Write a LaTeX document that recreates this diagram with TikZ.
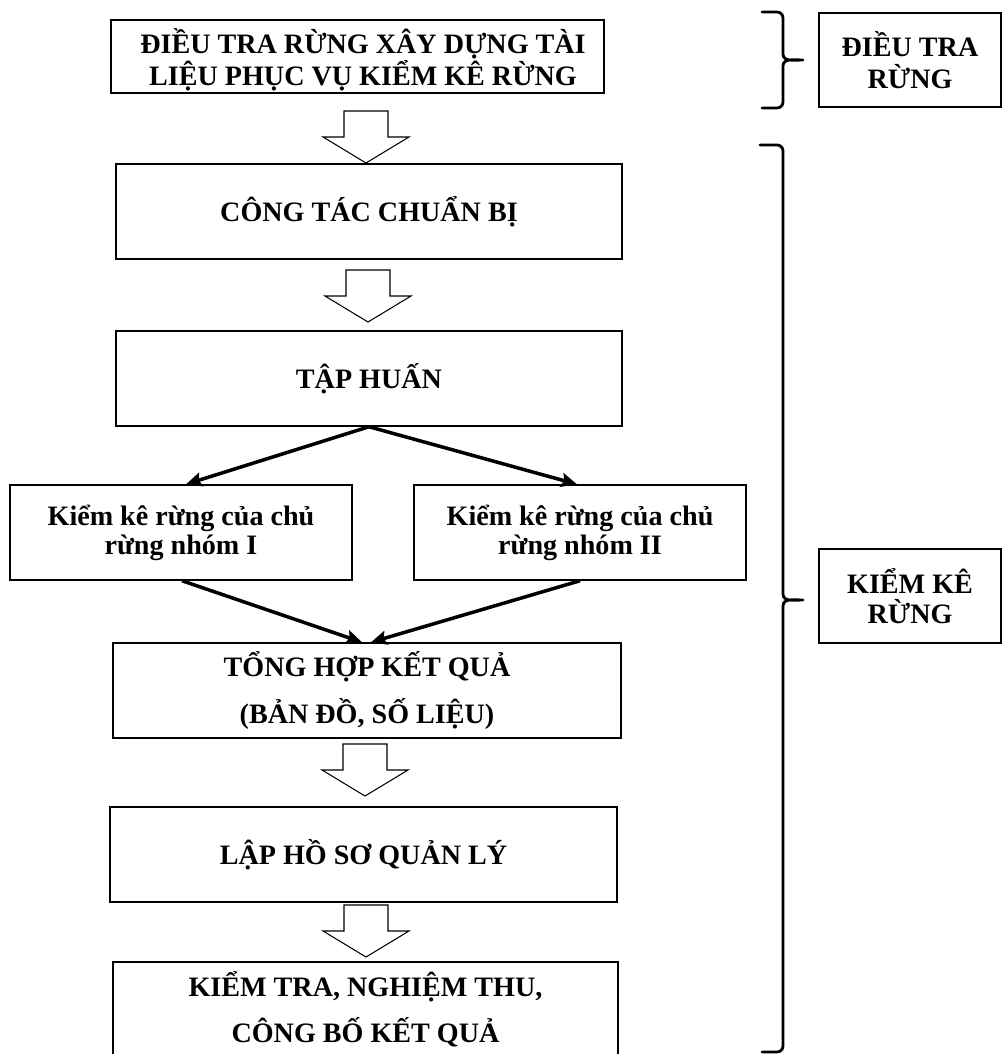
\documentclass[tikz,border=0pt]{standalone}
\usepackage{fontspec}
\setmainfont{Liberation Serif}
\usetikzlibrary{arrows.meta}
\tikzset{
  box/.style={draw, line width=0.85pt, align=center, inner sep=0pt,
    font=\fontsize{16}{15.8}\selectfont\bfseries},
  boxwide/.style={box, minimum width=10.12cm, minimum height=1.9cm},
  flowarrow/.style={line width=2pt, -{Stealth[length=9pt,width=8pt,inset=1.5pt]}},
  bracestyle/.style={line width=1.6pt, line join=round, line cap=round},
  hollow/.pic={\draw[fill=white, line width=0.6pt, line join=miter]
      (-22,-52) -- (22,-52) -- (22,-26) -- (43,-26) -- (0,0) -- (-43,-26) -- (-22,-26) -- cycle;}
}
\begin{document}
\begin{tikzpicture}[x=0.02cm, y=-0.02cm]
\useasboundingbox (0,0) rectangle (1003,1054);
\clip (0,0) rectangle (1003,1054);

% main column
\node[box, minimum width=9.86cm, minimum height=1.46cm] (top) at (357.5,56.5) {};
\node[align=center, inner sep=0pt, font=\fontsize{16}{15.8}\selectfont\bfseries] (toptext) at (363,60)
  {ĐIỀU TRA RỪNG XÂY DỰNG TÀI\\LIỆU PHỤC VỤ KIỂM KÊ RỪNG};
\node[boxwide] (congtac) at (369,211.5) {CÔNG TÁC CHUẨN BỊ};
\node[boxwide] (taphuan) at (369,378.5) {TẬP HUẤN};
\node[box, minimum width=6.84cm, minimum height=1.9cm,
  font=\fontsize{16}{16.5}\selectfont\bfseries] (left) at (181,532.5)
  {Kiểm kê rừng của chủ\\rừng nhóm I};
\node[box, minimum width=6.64cm, minimum height=1.9cm,
  font=\fontsize{16}{16.5}\selectfont\bfseries] (right) at (580,532.5)
  {Kiểm kê rừng của chủ\\rừng nhóm II};
\node[box, minimum width=10.16cm, minimum height=1.9cm,
  font=\fontsize{16}{26.5}\selectfont\bfseries] (tonghop) at (367,690.5)
  {TỔNG HỢP KẾT QUẢ\\(BẢN ĐỒ, SỐ LIỆU)};
\node[box, minimum width=10.14cm, minimum height=1.9cm] (lapho) at (363.5,854.5)
  {LẬP HỒ SƠ QUẢN LÝ};
\node[box, minimum width=10.1cm, minimum height=1.9cm,
  font=\fontsize{16}{26}\selectfont\bfseries] (kiemtra) at (365.5,1009.5)
  {KIỂM TRA, NGHIỆM THU,\\CÔNG BỐ KẾT QUẢ};

% hollow arrows
\pic at (366,163) {hollow};
\pic at (368,322) {hollow};
\pic at (365,796) {hollow};
\pic at (366,957) {hollow};

% black arrows
\draw[flowarrow] (taphuan.south) -- ([xshift=0.1cm]left.north);
\draw[flowarrow] (taphuan.south) -- ([xshift=-0.06cm]right.north);
\draw[flowarrow] ([xshift=0.02cm]left.south) -- ([xshift=-0.1cm]tonghop.north);
\draw[flowarrow] (right.south) -- ([xshift=0.08cm]tonghop.north);

% right labels
\node[box, minimum width=3.64cm, minimum height=1.88cm,
  font=\fontsize{16}{18}\selectfont\bfseries] (dieutra) at (910,60)
  {ĐIỀU TRA\\RỪNG};
\node[box, minimum width=3.64cm, minimum height=1.88cm,
  font=\fontsize{16}{17}\selectfont\bfseries] (kiemke) at (910,596)
  {KIỂM KÊ\\RỪNG};

% braces
\coordinate (b1tip) at (803,60);
\coordinate (b2tip) at (803,600);
\draw[bracestyle] (762,12) -- (777,12) to[out=0,in=90] (783,18) -- (783,54)
  to[out=-90,in=180] (b1tip) to[out=180,in=90] (783,66) -- (783,102)
  to[out=-90,in=0] (777,108) -- (762,108);
\draw[bracestyle] (760,145) -- (777,145) to[out=0,in=90] (783,151) -- (783,594)
  to[out=-90,in=180] (b2tip) to[out=180,in=90] (783,606) -- (783,1046)
  to[out=-90,in=0] (777,1052) -- (762,1052);
\end{tikzpicture}
\end{document}
